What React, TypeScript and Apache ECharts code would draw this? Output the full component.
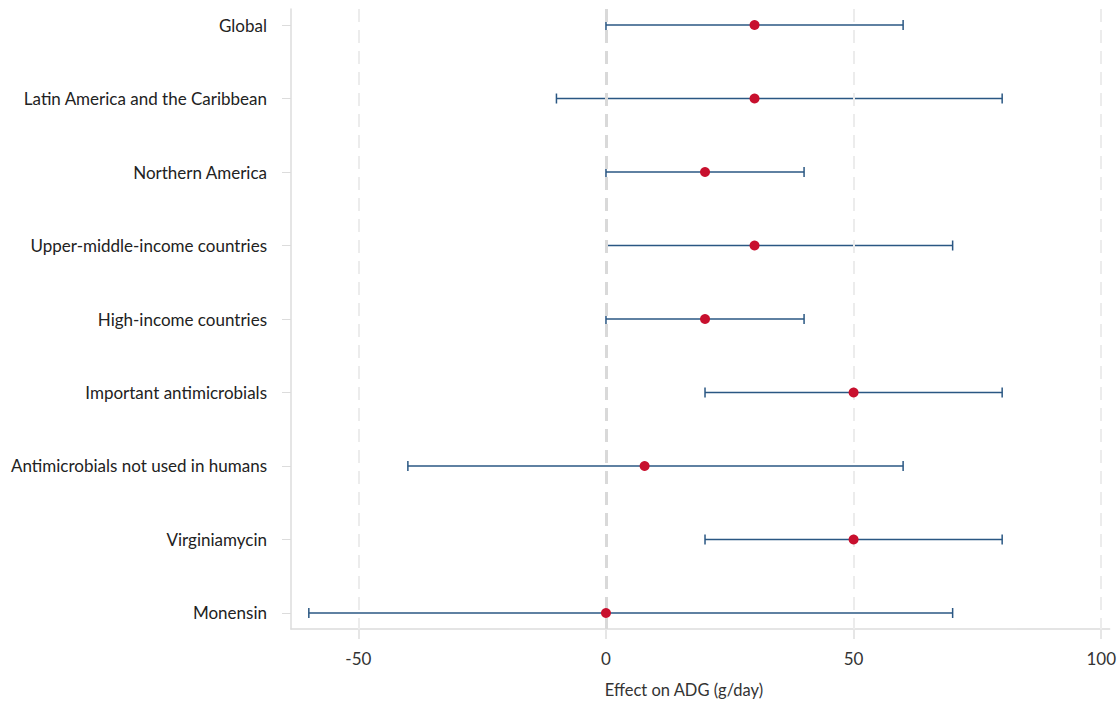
import React, { useEffect, useRef } from "react";
import * as echarts from "echarts";

const categories = [
  "Global",
  "Latin America and the Caribbean",
  "Northern America",
  "Upper-middle-income countries",
  "High-income countries",
  "Important antimicrobials",
  "Antimicrobials not used in humans",
  "Virginiamycin",
  "Monensin",
];
const estimates = [30, 30, 20, 30, 20, 50, 7.8, 50, 0];
const lowerCI = [0, -10, 0, 0, 0, 20, -40, 20, -60];
const upperCI = [60, 80, 40, 70, 40, 80, 60, 80, 70];
const xTicks = [-50, 0, 50, 100];
const xAxisTitle = "Effect on ADG (g/day)";

const FONT = "Lato";

export default function App() {
  const ref = useRef<HTMLDivElement>(null);
  useEffect(() => {
    if (!ref.current) return;
    const chart = echarts.init(ref.current, null, { renderer: "svg" });
    const yIdx = categories.map((_, i) => i);
    const option: any = {
      animation: false,
      backgroundColor: "#fff",
      textStyle: { fontFamily: FONT },
      grid: { left: 291, right: 0, top: 9, bottom: 73 },
      xAxis: {
        type: "value",
        min: -63.6,
        max: 101.7,
        axisLine: { show: true, onZero: false, lineStyle: { color: "#dcdcdc", width: 1.5 } },
        axisTick: {
          show: true,
          customValues: xTicks,
          length: 10,
          lineStyle: { color: "#e6e6e6", width: 2 },
        },
        axisLabel: {
          customValues: xTicks,
          fontSize: 17,
          color: "#333",
          margin: 21,
          fontFamily: FONT,
        },
        splitLine: { show: false },
      },
      yAxis: {
        type: "value",
        inverse: true,
        min: -0.218,
        max: 8.218,
        axisLine: { show: true, onZero: false, lineStyle: { color: "#dcdcdc", width: 1.5 } },
        axisTick: {
          show: true,
          customValues: yIdx,
          length: 9,
          lineStyle: { color: "#dcdcdc", width: 1 },
        },
        axisLabel: {
          customValues: yIdx,
          formatter: (v: number) => categories[Math.round(v)] ?? "",
          fontSize: 17,
          color: "#222",
          margin: 24,
          fontFamily: FONT,
        },
        splitLine: { show: false },
      },
      graphic: [
        {
          type: "text",
          x: 684,
          y: 690,
          style: {
            text: xAxisTitle,
            fontSize: 16.5,
            fill: "#333",
            fontFamily: FONT,
            align: "center",
            verticalAlign: "middle",
          },
        },
      ],
      series: [
        {
          type: "scatter",
          data: [],
          silent: true,
          markLine: {
            silent: true,
            symbol: ["none", "none"],
            label: { show: false },
            data: xTicks
              .filter((t) => t !== 0)
              .map((t) => ({
                xAxis: t,
                lineStyle: { color: "#ececec", width: 2, type: [13, 8] },
              }))
              .concat([
                {
                  xAxis: 0,
                  lineStyle: { color: "#d9d9d9", width: 3, type: [13, 8] },
                } as any,
              ]),
          },
        },
        {
          type: "custom",
          renderItem: (params: any, api: any) => {
            const y = api.value(0);
            const lo = api.coord([api.value(1), y]);
            const hi = api.coord([api.value(2), y]);
            const h = 5;
            const style = { stroke: "#2a5783", lineWidth: 1.5 };
            return {
              type: "group",
              children: [
                { type: "line", shape: { x1: lo[0], y1: lo[1], x2: hi[0], y2: hi[1] }, style },
                { type: "line", shape: { x1: lo[0], y1: lo[1] - h, x2: lo[0], y2: lo[1] + h }, style },
                { type: "line", shape: { x1: hi[0], y1: hi[1] - h, x2: hi[0], y2: hi[1] + h }, style },
              ],
            };
          },
          encode: { x: [1, 2], y: 0 },
          data: categories.map((_, i) => [i, lowerCI[i], upperCI[i]]),
          z: 3,
        },
        {
          type: "scatter",
          symbol: "circle",
          symbolSize: 10,
          itemStyle: { color: "#c8102e", opacity: 1 },
          data: categories.map((_, i) => [estimates[i], i]),
          z: 5,
        },
      ],
    };
    chart.setOption(option);
    return () => chart.dispose();
  }, []);
  return <div ref={ref} style={{ width: 1119, height: 702, position: "absolute", left: 0, top: 0 }} />;
}
